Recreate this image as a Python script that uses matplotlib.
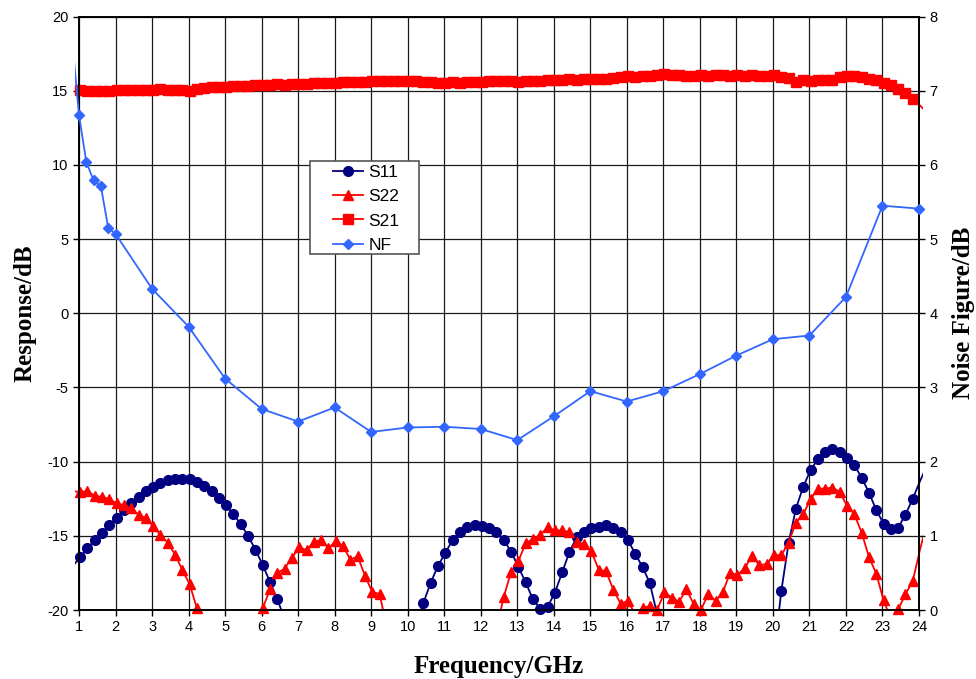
import numpy as np
import matplotlib
matplotlib.use("Agg")
import matplotlib.pyplot as plt
from matplotlib.lines import Line2D
from matplotlib.patches import Rectangle
from matplotlib.transforms import Bbox, TransformedBbox

# ---------------------------------------------------------------
#   measured data: S-parameters on a 0.2 GHz sweep, NF spot points
# ---------------------------------------------------------------
F_START = 0.83
F_STEP = 0.2

s11 = [-17.05, -16.43, -15.84, -15.30, -14.79, -14.27, -13.78, -13.28, -12.81, -12.36,
       -11.98, -11.69, -11.44, -11.26, -11.17, -11.15, -11.19, -11.35, -11.64, -11.98,
       -12.45, -12.94, -13.55, -14.22, -15.01, -15.93, -16.97, -18.11, -19.28, -20.60,
       -22.00, -23.40, -24.80, -26.10, -27.30, -28.40, -29.20, -29.80, -30.10, -30.00,
       -29.60, -28.90, -27.90, -26.70, -25.30, -24.30, -22.70, -21.00, -19.51, -18.17,
       -17.01, -16.16, -15.27, -14.75, -14.40, -14.29, -14.33, -14.44, -14.71, -15.27,
       -16.07, -17.10, -18.13, -19.29, -19.91, -19.78, -18.84, -17.46, -16.07, -15.09,
       -14.73, -14.44, -14.38, -14.24, -14.44, -14.75, -15.29, -16.21, -17.10, -18.19,
       -20.30, -22.30, -24.20, -25.80, -27.00, -27.80, -28.20, -28.30, -28.20, -28.00,
       -27.80, -27.60, -27.40, -27.20, -27.00, -26.30, -23.00, -18.72, -15.46, -13.17,
       -11.69, -10.58, -9.84, -9.33, -9.17, -9.33, -9.78, -10.25, -11.08, -12.09,
       -13.26, -14.18, -14.56, -14.45, -13.57, -12.49, -11.30, -10.20]

s22 = [-12.00, -12.04, -12.00, -12.29, -12.38, -12.52, -12.81, -12.94, -13.15, -13.57,
       -13.82, -14.34, -14.94, -15.46, -16.27, -17.30, -18.27, -19.89, -21.80, -23.50,
       -25.00, -26.00, -26.50, -26.30, -25.20, -22.50, -19.89, -18.61, -17.51, -17.21,
       -16.47, -15.78, -15.96, -15.42, -15.28, -15.84, -15.35, -15.69, -16.61, -16.38,
       -17.69, -18.79, -18.92, -21.20, -23.00, -24.50, -25.50, -26.00, -26.00, -25.60,
       -25.00, -24.50, -24.00, -23.60, -23.50, -23.80, -24.20, -23.60, -21.30, -19.13,
       -17.43, -16.72, -15.49, -15.22, -14.93, -14.42, -14.64, -14.64, -14.75, -15.45,
       -15.54, -16.05, -17.28, -17.39, -18.62, -19.58, -19.38, -20.30, -19.87, -19.73,
       -20.00, -18.79, -19.17, -19.44, -18.61, -19.60, -20.00, -18.90, -19.39, -18.79,
       -17.48, -17.64, -17.17, -16.36, -16.99, -16.90, -16.31, -16.31, -15.46, -14.11,
       -13.55, -12.54, -11.82, -11.82, -11.75, -12.04, -12.99, -13.55, -14.79, -16.43,
       -17.55, -19.35, -20.60, -19.96, -18.94, -18.04, -15.90, -14.00]

s21 = [15.02, 15.03, 15.00, 14.99, 15.00, 15.01, 15.05, 15.04, 15.07, 15.05,
       15.08, 15.07, 15.10, 15.06, 15.04, 15.08, 14.99, 15.10, 15.17, 15.22,
       15.24, 15.27, 15.30, 15.31, 15.33, 15.36, 15.38, 15.40, 15.43, 15.41,
       15.46, 15.48, 15.47, 15.51, 15.50, 15.54, 15.55, 15.57, 15.56, 15.60,
       15.59, 15.62, 15.63, 15.65, 15.64, 15.66, 15.63, 15.62, 15.60, 15.57,
       15.55, 15.53, 15.56, 15.55, 15.58, 15.57, 15.60, 15.62, 15.63, 15.66,
       15.64, 15.58, 15.65, 15.68, 15.66, 15.72, 15.74, 15.71, 15.76, 15.74,
       15.78, 15.77, 15.80, 15.79, 15.86, 15.90, 15.97, 15.93, 16.02, 16.00,
       16.08, 16.12, 16.07, 16.05, 16.02, 16.00, 16.03, 16.01, 16.04, 16.06,
       16.02, 16.04, 16.01, 16.03, 15.99, 16.02, 16.04, 15.92, 15.85, 15.60,
       15.72, 15.62, 15.75, 15.72, 15.75, 15.92, 15.96, 16.02, 15.95, 15.80,
       15.70, 15.50, 15.35, 15.10, 14.85, 14.45, 14.00, 13.50]

nf_freq = [0.8, 1.0, 1.2, 1.4, 1.6, 1.8, 2.0, 3, 4, 5, 6, 7, 8, 9, 10, 11, 12,
           13, 14, 15, 16, 17, 18, 19, 20, 21, 22, 23, 24]
nf = [7.75, 6.67, 6.04, 5.79, 5.71, 5.15, 5.07, 4.33, 3.82, 3.12, 2.71, 2.54, 2.73,
      2.40, 2.46, 2.47, 2.44, 2.29, 2.61, 2.95, 2.81, 2.95, 3.18, 3.43, 3.65, 3.70,
      4.22, 5.45, 5.41]

x_ticks = list(range(1, 25))
resp_ticks = [-20, -15, -10, -5, 0, 5, 10, 15, 20]
nf_ticks = list(range(0, 9))

freq = F_START + F_STEP * np.arange(len(s11))

#----------------------------------------------------------------
#              figure setup
#----------------------------------------------------------------
plt.rcParams['font.family'] = ['Liberation Sans', 'DejaVu Sans']
plt.rcParams['axes.unicode_minus'] = False
W, H = 976, 679
fig = plt.figure(figsize=(W / 100, H / 100), dpi=100)
ax = fig.add_axes([79 / W, 1 - 610 / H, 840 / W, 593.5 / H])
ax2 = ax.twinx()

ax.set_xlim(1, 24)
ax.set_ylim(-20, 20)
ax2.set_ylim(0, 8)
ax.set_xticks(x_ticks)
ax.set_yticks(resp_ticks)
ax2.set_yticks(nf_ticks)
for a in (ax, ax2):
    a.tick_params(direction='out', length=4, width=1, labelsize=10.5, color='black')
    for sp in a.spines.values():
        sp.set_linewidth(1.2)
        sp.set_color('black')
ax.tick_params(axis='x', pad=3)
ax.grid(True, color='#1a1a1a', linewidth=0.9)
ax.set_axisbelow(True)

# lines are allowed a few pixels past the left/right edges of the plot area
pad = 4 / 840
line_clip = TransformedBbox(Bbox([[-pad, 0], [1 + pad, 1]]), ax.transAxes)


def draw_series(axis, x, y, color, marker, msize, lo, hi):
    x = np.asarray(x, dtype=float)
    y = np.asarray(y, dtype=float)
    ln, = axis.plot(x, y, color=color, lw=1.3, zorder=3)
    ln.set_clip_box(line_clip)
    keep = (x >= 0.99) & (x <= 24.01) & (y >= lo) & (y <= hi)
    axis.plot(x[keep], y[keep], ls='none', marker=marker, ms=msize,
              color=color, mec=color, clip_on=False, zorder=4)


NAVY = '#000080'
RED = '#ff0000'
BLUE = '#3366ff'

draw_series(ax, freq, s11, NAVY, 'o', 7, -20.1, 20)
draw_series(ax, freq, s22, RED, '^', 7.5, -20.1, 20)
draw_series(ax, freq, s21, RED, 's', 7, -20.1, 20)
draw_series(ax2, nf_freq, nf, BLUE, 'D', 5.5, 0, 8)

#----------------------------------------------------------------
#              labels and legend
#----------------------------------------------------------------
serif = ['Liberation Serif', 'DejaVu Serif']
ax.set_ylabel('Response/dB', fontsize=18, fontweight='bold', family=serif, labelpad=8)
ax2.set_ylabel('Noise Figure/dB', fontsize=18, fontweight='bold', family=serif, labelpad=10)
ax.set_xlabel('Frequency/GHz', fontsize=18, fontweight='bold', family=serif, labelpad=15.5)

# white legend box with a grey border, entries placed inside it
box = Rectangle((310 / W, 1 - 254 / H), 109 / W, 93 / H, transform=fig.transFigure,
                facecolor='white', edgecolor='#555555', lw=1.2, zorder=6)
ax2.add_patch(box)
box.set_clip_on(False)

handles = [
    Line2D([], [], color=NAVY, marker='o', ms=7, lw=1.3),
    Line2D([], [], color=RED, marker='^', ms=7.5, lw=1.3),
    Line2D([], [], color=RED, marker='s', ms=7, lw=1.3),
    Line2D([], [], color=BLUE, marker='D', ms=5.5, lw=1.3),
]
leg = ax2.legend(handles, ['S11', 'S22', 'S21', 'NF'], loc='upper left',
                 bbox_to_anchor=(333 / W, 1 - 165 / H), bbox_transform=fig.transFigure,
                 fontsize=12.5, frameon=False, handlelength=1.75, handletextpad=0.3,
                 labelspacing=0.52, borderpad=0, borderaxespad=0)
leg.set_zorder(7)

fig.savefig('out.png', dpi=100)
